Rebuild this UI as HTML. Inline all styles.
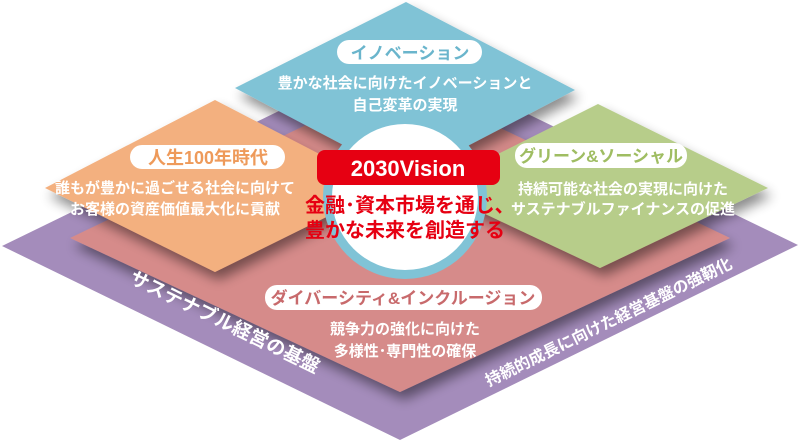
<!DOCTYPE html>
<html><head><meta charset="utf-8"><style>
html,body{margin:0;padding:0;background:#fff;width:800px;height:443px;overflow:hidden}
text{font-family:"Liberation Sans","Noto Sans CJK JP",sans-serif;font-weight:bold}
</style></head><body>
<svg width="800" height="443" viewBox="0 0 800 443" xmlns="http://www.w3.org/2000/svg">
<defs>
<filter id="sh" x="-20%" y="-20%" width="140%" height="140%"><feGaussianBlur in="SourceAlpha" stdDeviation="6"/><feOffset dx="4" dy="8"/><feComponentTransfer><feFuncA type="linear" slope="0.45"/></feComponentTransfer><feMerge><feMergeNode/><feMergeNode in="SourceGraphic"/></feMerge></filter>
</defs>
<polygon points="2,246 400,52 798,245 400,440" fill="#a48cbb"/>
<polygon points="70,238 400,80 730,238 400,392" fill="#d68b8a" filter="url(#sh)"/>
<polygon points="235,88 406,2 575,90 406,178" fill="#80c3d6" filter="url(#sh)"/>
<polygon points="45,188 215,100 385,188 215,272" fill="#f3b07f" filter="url(#sh)"/>
<polygon points="430,188 598,104 768,188 600,268" fill="#b7cd8a" filter="url(#sh)"/>
<circle cx="405" cy="197" r="82" fill="#80c3d6"/>
<circle cx="405" cy="197" r="73" fill="#fff"/>
<rect x="317" y="150" width="183" height="35" rx="8" fill="#e60012"/>
<text x="408" y="176" font-size="22" fill="#fff" text-anchor="middle">2030Vision</text>
<text x="405" y="212" font-size="20" fill="#e60012" text-anchor="middle">金融･資本市場を通じ､</text>
<text x="405" y="237" font-size="20" fill="#e60012" text-anchor="middle">豊かな未来を創造する</text>
<rect x="337" y="40" width="145" height="24" rx="12" fill="#fff"/>
<text x="410" y="59" font-size="17" fill="#6ab5cc" text-anchor="middle">イノベーション</text>
<text x="405" y="88" font-size="15" fill="#fff" text-anchor="middle">豊かな社会に向けたイノベーションと</text>
<text x="405" y="110" font-size="15" fill="#fff" text-anchor="middle">自己変革の実現</text>
<rect x="130" y="145" width="155" height="24" rx="12" fill="#fff"/>
<text x="208" y="164" font-size="18" fill="#ee9a5a" text-anchor="middle">人生100年時代</text>
<text x="175" y="193" font-size="15" fill="#fff" text-anchor="middle">誰もが豊かに過ごせる社会に向けて</text>
<text x="175" y="214" font-size="15" fill="#fff" text-anchor="middle">お客様の資産価値最大化に貢献</text>
<rect x="515" y="143" width="172" height="25" rx="12" fill="#fff"/>
<text x="601" y="162" font-size="17" fill="#9fbd62" text-anchor="middle">グリーン&amp;ソーシャル</text>
<text x="623" y="194" font-size="15" fill="#fff" text-anchor="middle">持続可能な社会の実現に向けた</text>
<text x="623" y="214" font-size="15" fill="#fff" text-anchor="middle">サステナブルファイナンスの促進</text>
<rect x="265" y="285" width="277" height="25" rx="12" fill="#fff"/>
<text x="403" y="304" font-size="17" fill="#c86a6c" text-anchor="middle">ダイバーシティ&amp;インクルージョン</text>
<text x="405" y="334" font-size="15" fill="#fff" text-anchor="middle">競争力の強化に向けた</text>
<text x="405" y="356" font-size="15" fill="#fff" text-anchor="middle">多様性･専門性の確保</text>
<text x="0" y="0" font-size="19" fill="#fff" text-anchor="middle" transform="translate(222,328) rotate(26)">サステナブル経営の基盤</text>
<text x="0" y="0" font-size="16" fill="#fff" text-anchor="middle" transform="translate(611,327) rotate(-26)">持続的成長に向けた経営基盤の強靭化</text>
</svg>
</body></html>
